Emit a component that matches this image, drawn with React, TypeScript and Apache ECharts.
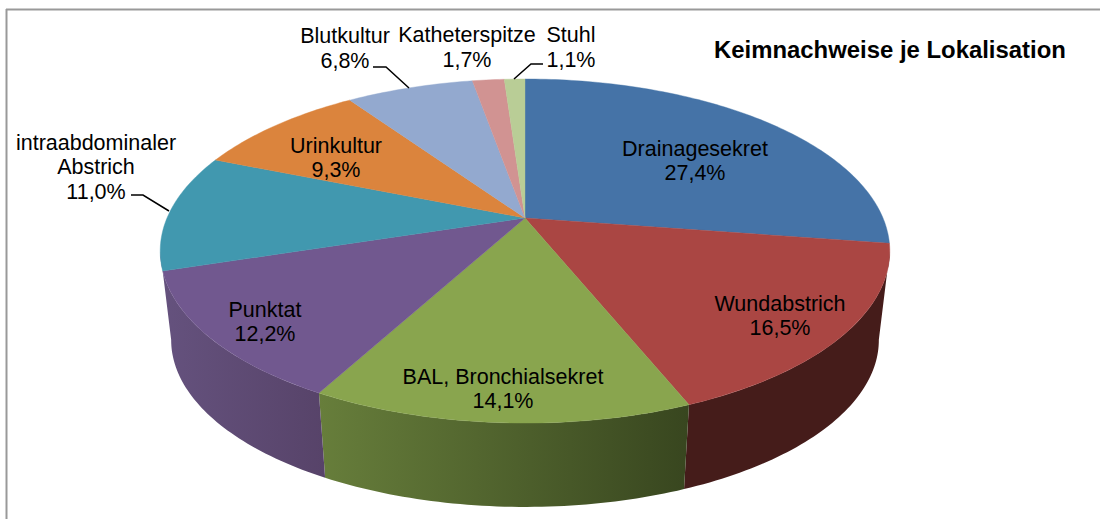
import React, { useEffect, useRef } from "react";
import * as echarts from "echarts";

const titleText = "Keimnachweise je Lokalisation";
const categories = ["Drainagesekret", "Wundabstrich", "BAL, Bronchialsekret", "Punktat", "intraabdominaler\nAbstrich", "Urinkultur", "Blutkultur", "Katheterspitze", "Stuhl"];
const shares = [27.4, 16.5, 14.1, 12.2, 11.0, 9.3, 6.8, 1.7, 1.1];
const topColors = ["#4573A7", "#AA4643", "#89A54E", "#71588F", "#4198AF", "#DB843D", "#93A9CF", "#D19392", "#B9CD96"];
const sideColors: (string[] | null)[] = [null, ["#451C1A", "#451C1A"], ["#677E3B", "#38461F"], ["#65527E", "#574369"], null, null, null, null, null];
const labelCentres = [[695, 161], [780, 316], [503, 389], [265, 322], [96, 167], [336, 158], [345, 48.5], [467, 47.5], [571, 47.5]];
const leaderLines: (number[][] | null)[] = [null, null, null, null,
  [[131, 195], [143, 195], [169, 211]], null,
  [[373, 67], [386, 67], [409, 88]], null,
  [[514, 79], [531, 64], [543, 64]]];

// projection of the tilted disc
const cx = 525, apexY = 218, b = 358, a = 165.7, p = 0.192;
const floorScale = 0.97, floorY = 308;
const silhouette = [101, 259];
const total = shares.reduce((s, v) => s + v, 0);
const starts = shares.map((_, i) => shares.slice(0, i).reduce((s, v) => s + v, 0) / total * 360);
const ends = shares.map((_, i) => shares.slice(0, i + 1).reduce((s, v) => s + v, 0) / total * 360);

const topPoint = (deg: number) => {
  const t = deg * Math.PI / 180;
  const u = Math.sin(t), v = -Math.cos(t), w = 1 - p * v;
  return [cx + b * u / w, apexY + a * v / w];
};
const floorPoint = (deg: number) => {
  const q = topPoint(deg);
  return [cx + floorScale * (q[0] - cx), floorY + floorScale * (q[1] - apexY)];
};
const arc = (f: (d: number) => number[], from: number, to: number) => {
  const n = Math.max(2, Math.ceil(Math.abs(to - from)));
  return Array.from({ length: n + 1 }, (_, i) => f(from + (to - from) * i / n));
};
const isSide = (i: number) => {
  if (i < 0 || i >= shares.length) return false;
  const mid = (starts[i] + ends[i]) / 2;
  return mid > silhouette[0] && mid < silhouette[1];
};
const pct = (v: number) => v.toFixed(1).replace(".", ",") + "%";
const font = "21.5px 'Liberation Sans', Arial, sans-serif";

const renderSide = (params: any) => {
  const i = params.dataIndex;
  const colors = sideColors[i];
  if (!isSide(i) || !colors) return { type: "group", children: [] };
  const from = isSide(i - 1) ? starts[i] : silhouette[0];
  const to = isSide(i + 1) ? ends[i] : silhouette[1];
  const pts = [...arc(topPoint, from, to), ...arc(floorPoint, to, from)];
  return {
    type: "polygon",
    shape: { points: pts },
    style: {
      fill: new echarts.graphic.LinearGradient(0, 0, 1, 0, [
        { offset: 0, color: colors[0] },
        { offset: 1, color: colors[1] },
      ]),
    },
  };
};

const renderTop = (params: any) => {
  const i = params.dataIndex;
  const pts = [[cx, apexY], ...arc(topPoint, starts[i], ends[i])];
  return { type: "polygon", shape: { points: pts }, style: { fill: topColors[i], stroke: topColors[i], lineWidth: 0.4 } };
};

const renderLabel = (params: any, api: any) => {
  const i = params.dataIndex;
  const [x, y] = labelCentres[i];
  const children: any[] = [{
    type: "text",
    style: {
      text: categories[i] + "\n" + pct(api.value(0)),
      x, y, align: "center", verticalAlign: "middle",
      font, lineHeight: 24.5, fill: "#000000",
    },
  }];
  const line = leaderLines[i];
  if (line) children.push({ type: "polyline", shape: { points: line }, style: { fill: "none", stroke: "#000000", lineWidth: 1.5 } });
  return { type: "group", children };
};

export default function App() {
  const ref = useRef<HTMLDivElement>(null);
  useEffect(() => {
    const chart = echarts.init(ref.current!, undefined, { renderer: "svg" });
    const data = shares.map((v, i) => ({ name: categories[i], value: [v] }));
    chart.setOption({
      animation: false,
      backgroundColor: "#ffffff",
      title: {
        text: titleText, left: 714, top: 37, padding: 0,
        textStyle: { fontFamily: "'Liberation Sans', Arial, sans-serif", fontSize: 23.9, fontWeight: "bold", color: "#000000" },
      },
      graphic: [
        { type: "line", shape: { x1: 6, y1: 9.5, x2: 1100, y2: 9.5 }, style: { stroke: "#999999", lineWidth: 2 } },
        { type: "line", shape: { x1: 6.5, y1: 9, x2: 6.5, y2: 519 }, style: { stroke: "#999999", lineWidth: 2 } },
      ],
      series: [
        { type: "custom", coordinateSystem: "none", renderItem: renderSide, data, z: 2, silent: true },
        { type: "custom", coordinateSystem: "none", renderItem: renderTop, data, z: 3, silent: true },
        { type: "custom", coordinateSystem: "none", renderItem: renderLabel, data, z: 4, silent: true },
      ],
    });
    return () => chart.dispose();
  }, []);
  return <div ref={ref} style={{ position: "absolute", left: 0, top: 0, width: 1100, height: 519 }} />;
}
